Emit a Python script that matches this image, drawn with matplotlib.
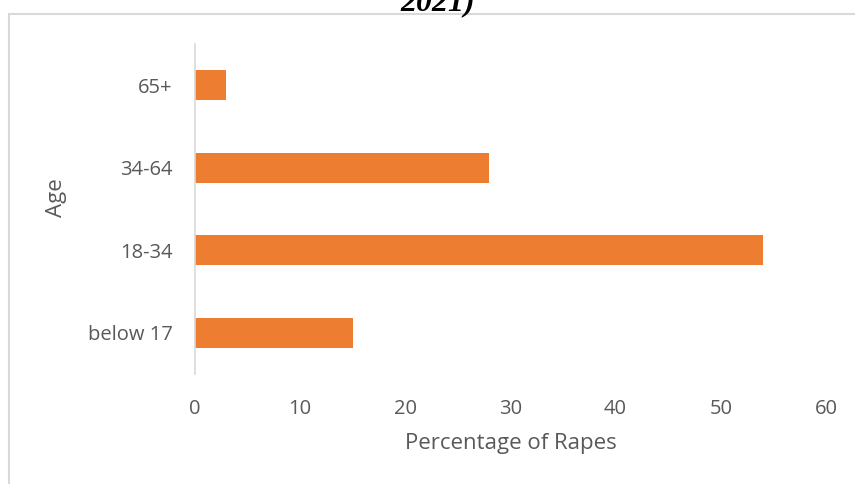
import matplotlib.pyplot as plt
from matplotlib.patches import Rectangle

ages = ["below 17", "18-34", "34-64", "65+"]
percent = [15, 54, 28, 3]
xticks = [0, 10, 20, 30, 40, 50, 60]

plt.rcParams["font.family"] = ["Open Sans", "DejaVu Sans"]
grey = "#595959"

fig = plt.figure(figsize=(8.55, 4.84), dpi=100)
ax = fig.add_axes([0.228, 0.227, 0.738, 0.682])

ax.barh(ages, percent, height=0.36, color="#ED7D31")
ax.set_xlim(0, 60)
ax.set_ylim(-0.5, 3.5)
ax.set_xticks(xticks)

for s in ["top", "right", "bottom"]:
    ax.spines[s].set_visible(False)
ax.spines["left"].set_color("#d9d9d9")
ax.spines["left"].set_linewidth(1.2)
ax.tick_params(axis="both", length=0, labelsize=14.5, labelcolor=grey)
ax.tick_params(axis="x", pad=18)
ax.tick_params(axis="y", pad=16)

ax.set_xlabel("Percentage of Rapes", fontsize=16, color=grey, labelpad=10)
ax.set_ylabel("Age", fontsize=16, color=grey)
ax.yaxis.set_label_coords(-0.203, 0.536)

# chart border (cut off at right and bottom)
fig.patches.append(Rectangle((8.5 / 855, -0.1), 1.2, 1 - 14.5 / 484 + 0.1,
                             transform=fig.transFigure, fill=False,
                             edgecolor="#d9d9d9", lw=1.5))

# title, mostly cut off at the top
fig.text(0.512, 1 - 10 / 484, "2021)", ha="center", va="baseline",
         fontsize=23, fontweight="bold", fontstyle="italic",
         family="Liberation Serif", color="black")

fig.savefig("out.png", dpi=100)
